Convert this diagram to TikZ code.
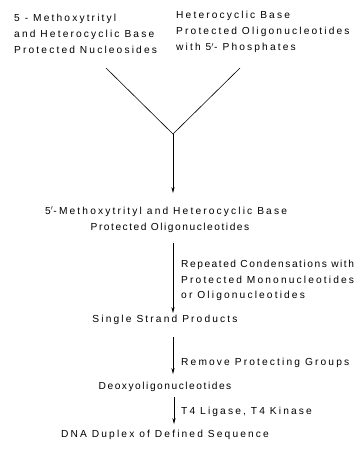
\documentclass[tikz,border=0pt]{standalone}
\usepackage{fontspec}
\setmainfont[LetterSpace=21]{Liberation Sans}
\newfontfamily\tightfont[LetterSpace=15]{Liberation Sans}
\usetikzlibrary{arrows.meta}
\begin{document}
\begin{tikzpicture}[x=1pt,y=-1pt,
  txt/.style={inner sep=0pt,font=\fontsize{10.2}{12}\selectfont},
  lt/.style={txt,anchor=base west},
  ct/.style={txt,anchor=base},
  conn/.style={line width=0.6pt},
  arr/.style={conn,-{Stealth[length=6pt,width=3.2pt]}}]
\useasboundingbox (0,0) rectangle (362,465);
% top left block
\node[lt] (a1) at (14,22) {5 - Methoxytrityl};
\node[lt] (a2) at (14,38) {and Heterocyclic Base};
\node[lt] (a3) at (14,54) {Protected Nucleosides};
% top right block
\node[lt] (b1) at (176,19) {Heterocyclic Base};
\node[lt] (b2) at (176,35) {Protected Oligonucleotides};
\node[lt] (b3) at (176,51) {with 5$'$- Phosphates};
% V junction
\coordinate (vl) at (106,68);
\coordinate (vr) at (240,68);
\coordinate (apex) at (173,134);
\coordinate (t1) at (173,193);
\draw[conn] (vl) -- (apex) -- (vr);
\draw[arr] (apex) -- (t1);
% product 1
\node[ct] (c1) at (166,214) {5$'$-Methoxytrityl and Heterocyclic Base};
\node[ct,font=\fontsize{10.2}{12}\tightfont] (c2) at (170,230) {Protected Oligonucleotides};
\coordinate (s2) at (173,243);
\coordinate (t2) at (173,313);
\draw[arr] (s2) -- (t2);
\node[lt,font=\fontsize{10.2}{12}\tightfont] (l21) at (181,267) {Repeated Condensations with};
\node[lt] (l22) at (181,283) {Protected Mononucleotides};
\node[lt] (l23) at (181,298) {or Oligonucleotides};
% single strand
\node[ct] (ss) at (165,322) {Single Strand Products};
\coordinate (s3) at (173,337);
\coordinate (t3) at (173,374);
\draw[arr] (s3) -- (t3);
\node[lt] (l3) at (181,365) {Remove Protecting Groups};
% deoxy
\node[ct,font=\fontsize{10.2}{12}\tightfont] (dx) at (165,389) {Deoxyoligonucleotides};
\coordinate (s4) at (174,397);
\coordinate (t4) at (174,424);
\draw[arr] (s4) -- (t4);
\node[lt] (l4) at (181,414) {T4 Ligase, T4 Kinase};
% final
\node[ct] (dna) at (165,437) {DNA Duplex of Defined Sequence};
\end{tikzpicture}
\end{document}
